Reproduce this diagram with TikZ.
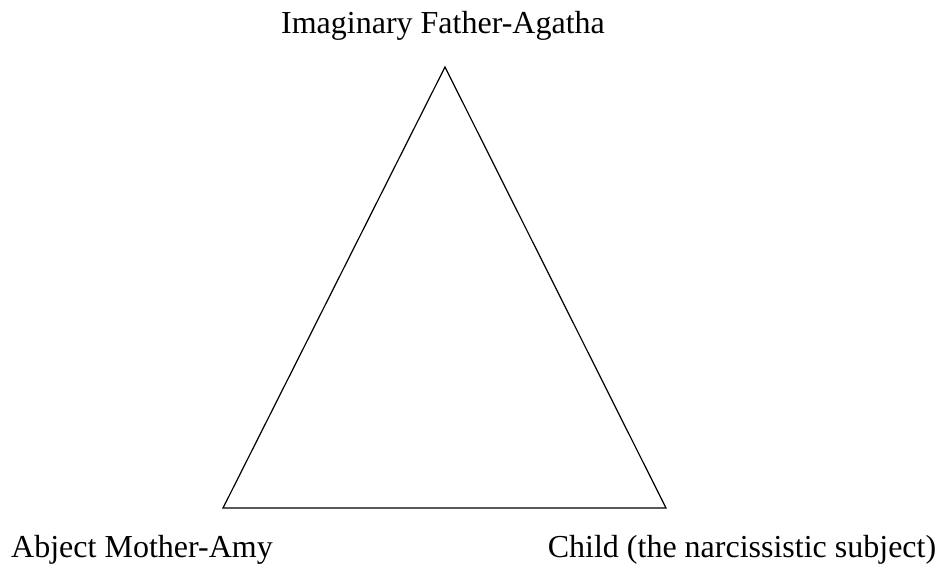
\documentclass[tikz,border=0pt]{standalone}
\usepackage{fontspec}
\setmainfont{Liberation Serif}
\begin{document}
\begin{tikzpicture}[x=1pt,y=-1pt,
  lbl/.style={font=\fontsize{32}{38}\selectfont, inner sep=0pt, anchor=base},
  edge/.style={draw=black, line width=1.2pt, line join=miter}]
\useasboundingbox (0,0) rectangle (939,565);
\coordinate (top) at (445,67);
\coordinate (bl) at (223,508);
\coordinate (br) at (666,508);
\draw[edge] (top) -- (bl) -- (br) -- cycle;
\node[lbl] (father) at (443,33) {Imaginary Father-Agatha};
\node[lbl] (mother) at (142,557) {Abject Mother-Amy};
\node[lbl] (child) at (742,557) {Child (the narcissistic subject)};
\end{tikzpicture}
\end{document}
